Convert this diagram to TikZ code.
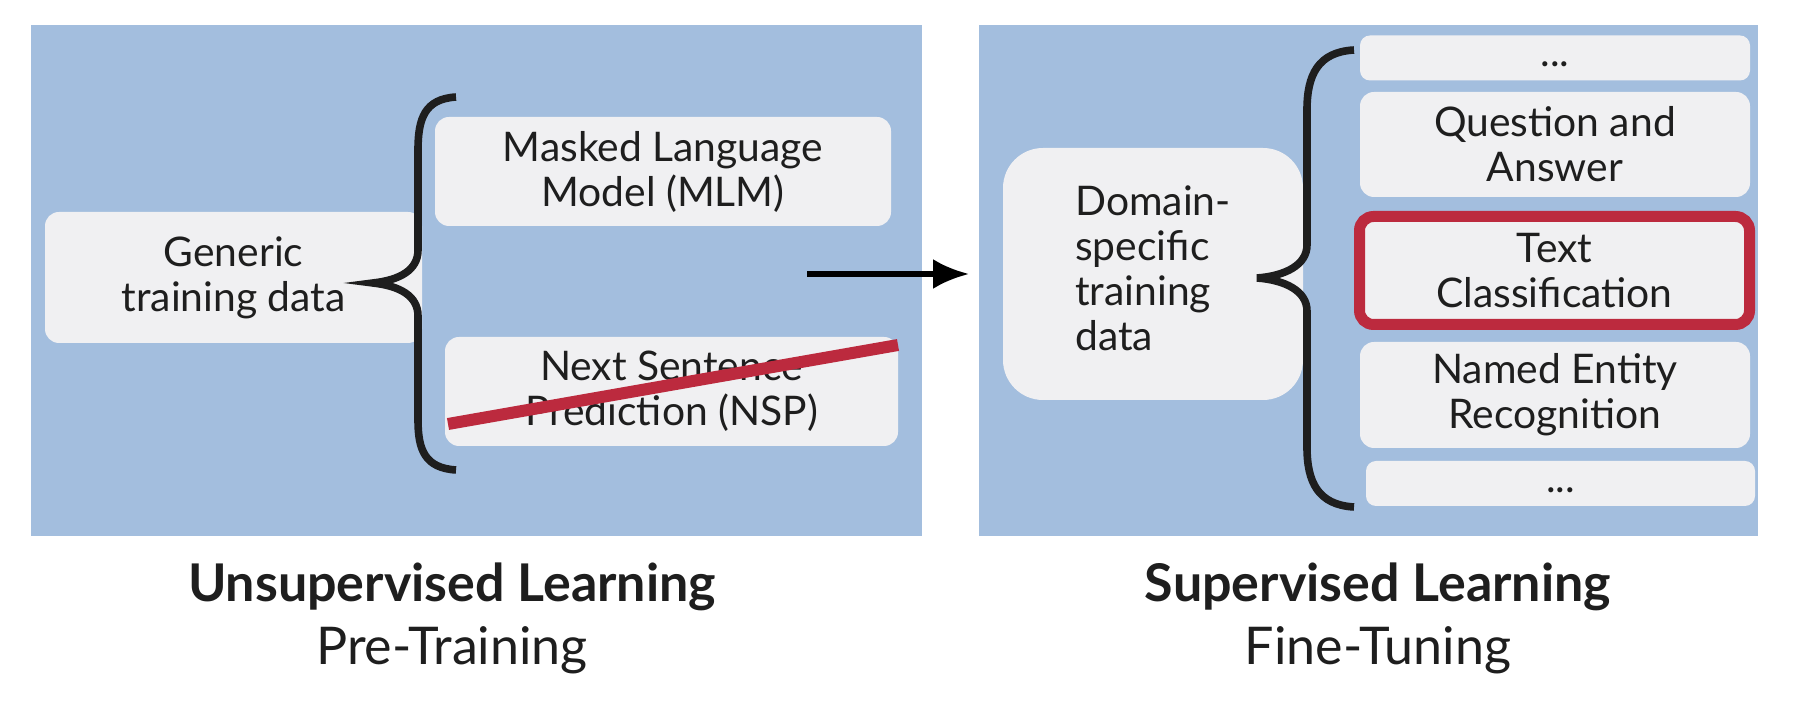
\documentclass[tikz,border=0pt]{standalone}
\usepackage{fontspec}
\setmainfont{Lato}
\usetikzlibrary{arrows.meta}
\definecolor{panelblue}{RGB}{163,190,222}
\definecolor{boxgray}{RGB}{240,240,242}
\definecolor{strike}{RGB}{188,42,62}
\definecolor{ink}{RGB}{30,30,30}

\begin{document}
\begin{tikzpicture}[x=0.5pt,y=-0.5pt,
    panel/.style={fill=panelblue},
    box/.style={rectangle,rounded corners=7pt,fill=boxgray,align=center,text=ink,font=\fontsize{20.4}{22.5}\selectfont,inner sep=0pt},
    pick/.style={box,draw=strike,line width=5.5pt},
    brace/.style={draw=ink,line width=3.8pt},
    cross/.style={draw=strike,line width=6pt},
    flow/.style={-{Latex[length=18pt,width=15pt]},line width=2.6pt,draw=black},
    title/.style={font=\fontsize{26}{30}\selectfont\bfseries,text=ink},
    subtitle/.style={font=\fontsize{26}{30}\selectfont,text=ink},
]
    \useasboundingbox (0,0) rectangle (1796,704);

    %%%
    % Pre-training panel
    \fill[panel] (31,25) rectangle (922,536);
    \node[box,minimum width=188.5pt,minimum height=65.5pt] (gen) at (233.5,277.5) {Generic\\training data};
    \node[box,minimum width=228pt,minimum height=54.5pt] (mlm) at (663,171.5) {Masked Language\\Model (MLM)};
    \node[box,minimum width=226.5pt,minimum height=54.5pt] (nsp) at (671.5,391.5) {Next Sentence\\Prediction (NSP)};
    \draw[brace] (456,97) .. controls (425,99) and (418,118) .. (418,150) -- (418,250)
        .. controls (418,270) and (400,280) .. (373,283)
        .. controls (400,286) and (418,296) .. (418,316) -- (418,420)
        .. controls (418,450) and (425,468) .. (456,470);
    \coordinate (cutA) at (448,424);
    \coordinate (cutB) at (898,345);
    \draw[cross] (cutA) -- (cutB);

    %%%
    % Fine-tuning panel
    \fill[panel] (979,25) rectangle (1758,536);
    \node[box,rounded corners=20pt,minimum width=150pt,minimum height=126pt] (dom) at (1153,274) {\begin{tabular}{@{}l@{}}Domain-\\specific\\training\\data\end{tabular}};
    \node[box,rounded corners=5pt,minimum width=195pt,minimum height=18pt] (top) at (1555,58) {\strut...};
    \node[box,minimum width=195pt,minimum height=52.5pt] (qa) at (1555,144.5) {Question and\\Answer};
    \node[pick,minimum width=195pt,minimum height=54pt] (tc) at (1554.5,270.5) {Text\\Classification};
    \node[box,minimum width=195pt,minimum height=53pt] (ner) at (1555,395) {Named Entity\\Recognition};
    \node[box,rounded corners=5pt,minimum width=194.5pt,minimum height=17.5pt] (bot) at (1560.5,483.5) {\strut...};
    \draw[brace] (1354,50) .. controls (1318,52) and (1307,75) .. (1307,110) -- (1307,245)
        .. controls (1307,265) and (1285,276) .. (1257,278)
        .. controls (1285,280) and (1307,291) .. (1307,311) -- (1307,447)
        .. controls (1307,482) and (1318,505) .. (1354,507);

    %%%
    % from pre-training to fine-tuning
    \coordinate (go) at (807,274);
    \coordinate (to) at (969,274);
    \draw[flow] (go) -- (to);

    % captions
    \node[title] (unsup) at (452,587) {Unsupervised Learning};
    \node[subtitle] (pre) at (452,650) {Pre-Training};
    \node[title] (sup) at (1378,587) {Supervised Learning};
    \node[subtitle] (fine) at (1378,650) {Fine-Tuning};
\end{tikzpicture}
\end{document}
